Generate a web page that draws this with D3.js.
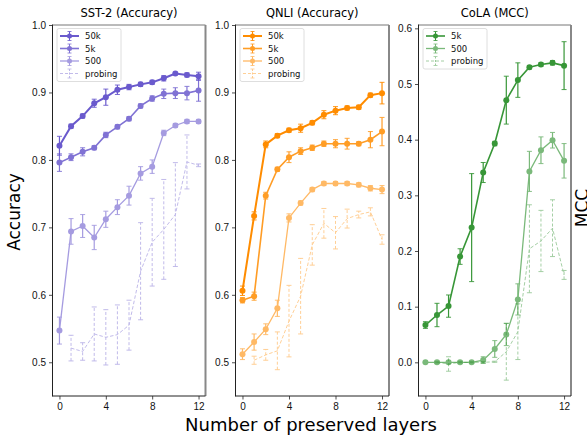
<!DOCTYPE html>
<html>
<head>
<meta charset="utf-8">
<script src="https://cdn.jsdelivr.net/npm/d3@7"></script>
<style>
  body { margin: 0; background: #fff; }
  svg { font-family: "DejaVu Sans", sans-serif; }
</style>
</head>
<body>
<svg id="chart" width="587" height="438"></svg>
<script>
var layers = [0, 1, 2, 3, 4, 5, 6, 7, 8, 9, 10, 11, 12];
var probeLayers = [1, 2, 3, 4, 5, 6, 7, 8, 9, 10, 11, 12];
var xTicks = [0, 4, 8, 12];

// SST-2 (accuracy)
var sst50k = [0.821, 0.850, 0.865, 0.884, 0.893, 0.904, 0.908, 0.912, 0.915, 0.921, 0.928, 0.926, 0.924];
var sst50kErr = [0.014, 0.003, 0.003, 0.006, 0.012, 0.007, 0.004, 0.003, 0.003, 0.004, 0.002, 0.003, 0.006];
var sst5k = [0.796, 0.804, 0.812, 0.818, 0.837, 0.849, 0.861, 0.880, 0.891, 0.898, 0.899, 0.899, 0.903];
var sst5kErr = [0.013, 0.005, 0.006, 0.003, 0.004, 0.003, 0.003, 0.003, 0.004, 0.007, 0.008, 0.010, 0.016];
var sst500 = [0.547, 0.694, 0.702, 0.685, 0.712, 0.730, 0.747, 0.780, 0.790, 0.840, 0.851, 0.857, 0.857];
var sst500Err = [0.020, 0.019, 0.017, 0.018, 0.012, 0.011, 0.014, 0.010, 0.010, 0.004, 0.003, 0.003, 0.003];
var sstProbe = [0.521, 0.516, 0.542, 0.537, 0.541, 0.555, 0.635, 0.678, 0.697, 0.719, 0.797, 0.792];
var sstProbeErr = [0.019, 0.013, 0.040, 0.041, 0.044, 0.037, 0.072, 0.065, 0.074, 0.077, 0.040, 0.002];

// QNLI (accuracy)
var qnli50k = [0.606, 0.717, 0.823, 0.836, 0.844, 0.847, 0.855, 0.867, 0.873, 0.877, 0.878, 0.896, 0.899];
var qnli50kErr = [0.007, 0.006, 0.005, 0.003, 0.003, 0.006, 0.003, 0.006, 0.006, 0.003, 0.003, 0.003, 0.016];
var qnli5k = [0.592, 0.598, 0.747, 0.786, 0.804, 0.813, 0.818, 0.824, 0.824, 0.824, 0.824, 0.830, 0.842];
var qnli5kErr = [0.004, 0.006, 0.005, 0.003, 0.008, 0.005, 0.004, 0.004, 0.006, 0.008, 0.003, 0.012, 0.021];
var qnli500 = [0.512, 0.530, 0.549, 0.580, 0.714, 0.736, 0.756, 0.765, 0.765, 0.765, 0.763, 0.758, 0.756];
var qnli500Err = [0.008, 0.012, 0.008, 0.012, 0.006, 0.003, 0.003, 0.003, 0.003, 0.003, 0.003, 0.004, 0.006];
var qnliProbe = [0.503, 0.511, 0.517, 0.561, 0.598, 0.674, 0.706, 0.692, 0.713, 0.719, 0.723, 0.682];
var qnliProbeErr = [0.006, 0.008, 0.028, 0.053, 0.056, 0.030, 0.022, 0.024, 0.014, 0.005, 0.006, 0.007];

// CoLA (MCC)
var cola5k = [0.067, 0.085, 0.101, 0.190, 0.242, 0.341, 0.393, 0.471, 0.507, 0.530, 0.535, 0.538, 0.533];
var cola5kErr = [0.006, 0.021, 0.020, 0.014, 0.097, 0.018, 0.004, 0.043, 0.031, 0.003, 0.003, 0.004, 0.043];
var cola500 = [0.000, 0.000, 0.000, 0.000, 0.000, 0.004, 0.024, 0.050, 0.113, 0.343, 0.381, 0.399, 0.362];
var cola500Err = [0.002, 0.002, 0.002, 0.002, 0.002, 0.006, 0.015, 0.020, 0.028, 0.036, 0.024, 0.014, 0.031];
var colaProbe = [0.000, -0.003, 0.000, 0.000, 0.000, 0.001, 0.019, 0.055, 0.204, 0.218, 0.241, 0.157];
var colaProbeErr = [0.001, 0.013, 0.001, 0.001, 0.001, 0.001, 0.051, 0.050, 0.079, 0.055, 0.051, 0.008];

var accTicks = [0.5, 0.6, 0.7, 0.8, 0.9, 1.0];
var mccTicks = [0.0, 0.1, 0.2, 0.3, 0.4, 0.5, 0.6];

var purple = '#6a5acd', orange = '#ff8c00', green = '#228b22';

var svg = d3.select('#chart');
var plotTop = 25, plotBottom = 396;

var panels = [
  {
    title: 'SST-2 (Accuracy)', left: 52.5, right: 205.5, color: purple,
    yDomain: [0.45, 1.0], yTicks: accTicks,
    series: [
      {label: '50k', xs: layers, ys: sst50k, err: sst50kErr, lw: 2, alpha: 1},
      {label: '5k', xs: layers, ys: sst5k, err: sst5kErr, lw: 1.6, alpha: 0.85},
      {label: '500', xs: layers, ys: sst500, err: sst500Err, lw: 1.3, alpha: 0.6},
      {label: 'probing', xs: probeLayers, ys: sstProbe, err: sstProbeErr, lw: 0.9, alpha: 0.45, dashed: true}
    ]
  },
  {
    title: 'QNLI (Accuracy)', left: 235.5, right: 389, color: orange,
    yDomain: [0.45, 1.0], yTicks: accTicks,
    series: [
      {label: '50k', xs: layers, ys: qnli50k, err: qnli50kErr, lw: 2, alpha: 1},
      {label: '5k', xs: layers, ys: qnli5k, err: qnli5kErr, lw: 1.6, alpha: 0.85},
      {label: '500', xs: layers, ys: qnli500, err: qnli500Err, lw: 1.3, alpha: 0.6},
      {label: 'probing', xs: probeLayers, ys: qnliProbe, err: qnliProbeErr, lw: 0.9, alpha: 0.45, dashed: true}
    ]
  },
  {
    title: 'CoLA (MCC)', left: 418.5, right: 571, color: green,
    yDomain: [-0.0605, 0.606], yTicks: mccTicks,
    series: [
      {label: '5k', xs: layers, ys: cola5k, err: cola5kErr, lw: 1.6, alpha: 0.9},
      {label: '500', xs: layers, ys: cola500, err: cola500Err, lw: 1.3, alpha: 0.6},
      {label: 'probing', xs: probeLayers, ys: colaProbe, err: colaProbeErr, lw: 0.9, alpha: 0.45, dashed: true}
    ]
  }
];

panels.forEach(drawPanel);

// shared labels
svg.append('text')
    .attr('x', 311).attr('y', 431)
    .attr('text-anchor', 'middle')
    .style('font-size', '18px')
    .text('Number of preserved layers');

svg.append('text')
    .attr('transform', 'translate(20,212) rotate(-90)')
    .attr('text-anchor', 'middle')
    .style('font-size', '17px')
    .text('Accuracy');

svg.append('text')
    .attr('transform', 'translate(588,208) rotate(-90)')
    .attr('text-anchor', 'middle')
    .style('font-size', '17px')
    .text('MCC');

function drawPanel (p) {
  var x = d3.scaleLinear().domain([-0.6, 12.6]).range([p.left, p.right]);
  var y = d3.scaleLinear().domain(p.yDomain).range([plotBottom, plotTop]);
  var g = svg.append('g');
  var fmt = d3.format('.1f');

  // axes
  var xAxis = g.append('g')
      .attr('transform', 'translate(0,' + plotBottom + ')')
      .call(d3.axisBottom(x).tickValues(xTicks).tickSize(3.5).tickPadding(3));
  var yAxis = g.append('g')
      .attr('transform', 'translate(' + p.left + ',0)')
      .call(d3.axisLeft(y).tickValues(p.yTicks).tickFormat(fmt).tickSize(3.5).tickPadding(3));
  [xAxis, yAxis].forEach(function (a) {
    a.select('.domain').remove();
    a.selectAll('text').style('font-size', '10px').attr('fill', '#111');
    a.selectAll('line').attr('stroke', '#222').attr('stroke-width', 0.8);
  });

  // spines
  g.append('line').attr('x1', p.left).attr('x2', p.right).attr('y1', plotTop).attr('y2', plotTop)
      .attr('stroke', '#777').attr('stroke-width', 1);
  g.append('line').attr('x1', p.right).attr('x2', p.right).attr('y1', plotTop).attr('y2', plotBottom)
      .attr('stroke', '#888').attr('stroke-width', 2);
  g.append('line').attr('x1', p.left).attr('x2', p.left).attr('y1', plotTop - 0.5).attr('y2', plotBottom + 0.5)
      .attr('stroke', '#222').attr('stroke-width', 1);
  g.append('line').attr('x1', p.left).attr('x2', p.right).attr('y1', plotBottom).attr('y2', plotBottom)
      .attr('stroke', '#222').attr('stroke-width', 1);

  var line = d3.line()
      .x(function (d) { return x(d.x); })
      .y(function (d) { return y(d.y); });

  p.series.forEach(function (s) {
    var pts = s.xs.map(function (v, i) { return {x: v, y: s.ys[i], e: s.err[i]}; });
    var sg = g.append('g').attr('opacity', s.alpha);

    // error bars
    var eb = sg.selectAll('.eb').data(pts).enter().append('g').attr('class', 'eb');
    eb.append('line')
        .attr('x1', function (d) { return x(d.x); })
        .attr('x2', function (d) { return x(d.x); })
        .attr('y1', function (d) { return y(d.y - d.e); })
        .attr('y2', function (d) { return y(d.y + d.e); })
        .attr('stroke', p.color).attr('stroke-width', s.dashed ? 0.9 : 1.2)
        .attr('stroke-dasharray', s.dashed ? '3,2' : null);
    [-1, 1].forEach(function (sign) {
      eb.append('line')
          .attr('x1', function (d) { return x(d.x) - 2.5; })
          .attr('x2', function (d) { return x(d.x) + 2.5; })
          .attr('y1', function (d) { return y(d.y + sign * d.e); })
          .attr('y2', function (d) { return y(d.y + sign * d.e); })
          .attr('stroke', p.color).attr('stroke-width', 0.9);
    });

    sg.append('path')
        .attr('d', line(pts))
        .attr('fill', 'none')
        .attr('stroke', p.color)
        .attr('stroke-width', s.lw)
        .attr('stroke-dasharray', s.dashed ? '3.5,2' : null);

    if (!s.dashed) {
      sg.selectAll('.dot').data(pts).enter().append('circle')
          .attr('class', 'dot')
          .attr('cx', function (d) { return x(d.x); })
          .attr('cy', function (d) { return y(d.y); })
          .attr('r', 3)
          .attr('fill', p.color);
    }
  });

  // title
  g.append('text')
      .attr('x', (p.left + p.right) / 2).attr('y', 17)
      .attr('text-anchor', 'middle')
      .style('font-size', '11.5px')
      .text(p.title);

  // legend
  var lx = p.left + 4.5, ly = 28.5;
  var lh = 12.5 * p.series.length + 3;
  var lg = g.append('g');
  lg.append('rect')
      .attr('x', lx).attr('y', ly).attr('width', 64).attr('height', lh)
      .attr('rx', 2).attr('fill', '#fff').attr('fill-opacity', 0.8)
      .attr('stroke', '#d5d5d5').attr('stroke-width', 0.8);
  p.series.forEach(function (s, i) {
    var cy = ly + 7.5 + i * 12.5;
    var e = lg.append('g').attr('opacity', s.alpha);
    e.append('line').attr('x1', lx + 3).attr('x2', lx + 22).attr('y1', cy).attr('y2', cy)
        .attr('stroke', p.color).attr('stroke-width', s.lw)
        .attr('stroke-dasharray', s.dashed ? '3,2' : null);
    e.append('line').attr('x1', lx + 12.5).attr('x2', lx + 12.5).attr('y1', cy - 4.5).attr('y2', cy + 4.5)
        .attr('stroke', p.color).attr('stroke-width', 1)
        .attr('stroke-dasharray', s.dashed ? '2,1.5' : null);
    [-4.5, 4.5].forEach(function (o) {
      e.append('line').attr('x1', lx + 10.5).attr('x2', lx + 14.5).attr('y1', cy + o).attr('y2', cy + o)
          .attr('stroke', p.color).attr('stroke-width', 0.8);
    });
    if (!s.dashed) {
      e.append('circle').attr('cx', lx + 12.5).attr('cy', cy).attr('r', 2.5).attr('fill', p.color);
    }
    lg.append('text')
        .attr('x', lx + 28).attr('y', cy + 3)
        .style('font-size', '8.5px')
        .attr('fill', '#111')
        .text(s.label);
  });
}
</script>
</body>
</html>
